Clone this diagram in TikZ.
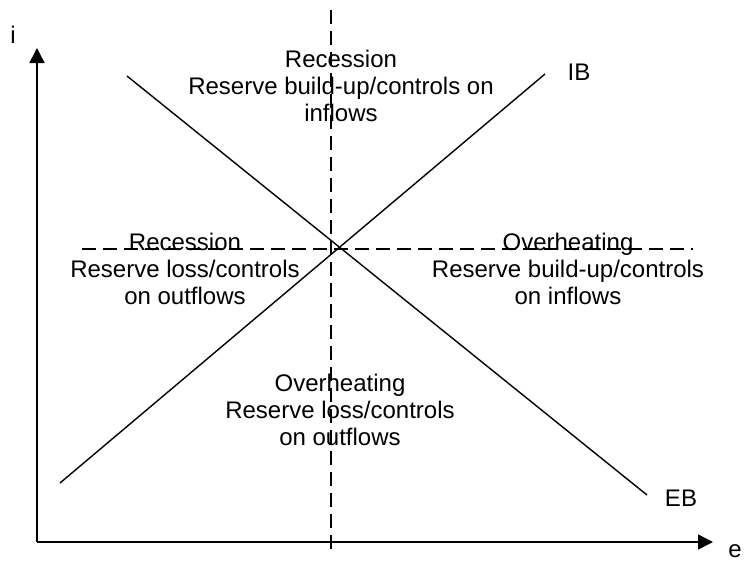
\documentclass[tikz,border=0pt]{standalone}
\usepackage{fontspec}
\setmainfont{Liberation Sans}
\usetikzlibrary{arrows.meta}

\begin{document}
\begin{tikzpicture}[x=1pt, y=-1pt,
    axis/.style={line width=1.5pt, -{Triangle[length=15pt, width=15pt]}},
    schedule/.style={line width=1.4pt},
    guide/.style={line width=1.4pt, dash pattern=on 14pt off 7pt},
    regime/.style={align=center, inner sep=0pt, anchor=north, font=\fontsize{24}{27}\selectfont},
    axlabel/.style={inner sep=0pt, anchor=base, font=\fontsize{24}{27}\selectfont}
  ]
  \useasboundingbox (0,0) rectangle (745,563);

  % axes
  \coordinate (origin) at (37,542);
  \coordinate (itop) at (37,48);
  \coordinate (eend) at (713,542);
  \draw[axis] (origin) -- (itop);
  \draw[axis] (origin) -- (eend);
  \node[axlabel] (ilabel) at (13,43) {i};
  \node[axlabel] (elabel) at (735,557) {e};

  % dashed guides through the crossing
  \coordinate (vtop) at (331,10);
  \coordinate (vbot) at (331,556);
  \coordinate (hleft) at (82,249);
  \coordinate (hright) at (693,249);
  \draw[guide] (vtop) -- (vbot);
  \draw[guide] (hleft) -- (hright);

  % IB and EB schedules
  \coordinate (ibstart) at (60,483);
  \coordinate (ibend) at (545,74);
  \coordinate (ebstart) at (127,76);
  \coordinate (ebend) at (647,495);
  \draw[schedule] (ibstart) -- (ibend);
  \draw[schedule] (ebstart) -- (ebend);
  \node[axlabel] (iblabel) at (579,80) {IB};
  \node[axlabel] (eblabel) at (681,506) {EB};

  % regimes
  \node[regime] (northregime) at (341,50) {Recession\\Reserve build-up/controls on\\inflows};
  \node[regime] (westregime) at (185,233) {Recession\\Reserve loss/controls\\on outflows};
  \node[regime] (eastregime) at (568,233) {Overheating\\Reserve build-up/controls\\on inflows};
  \node[regime] (southregime) at (340,374) {Overheating\\Reserve loss/controls\\on outflows};
\end{tikzpicture}
\end{document}
